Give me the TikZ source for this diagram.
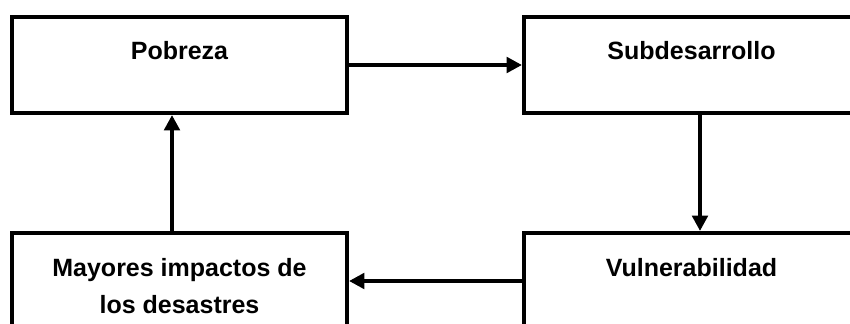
\documentclass[tikz,border=0pt]{standalone}
\usepackage{fontspec}
\setmainfont{Liberation Sans}
\usetikzlibrary{arrows.meta}
\begin{document}
\begin{tikzpicture}[x=0.75pt, y=-0.75pt,
  box/.style={draw=black, line width=3pt, fill=white, rectangle,
    minimum width=251.25pt, minimum height=72pt, inner sep=0pt},
  lbl/.style={font=\fontsize{18.75pt}{27.5pt}\selectfont\bfseries,
    align=center, inner sep=0pt, anchor=base},
  link/.style={line width=3pt, -{Triangle[length=11.5pt, width=11.5pt]}}]
  \useasboundingbox (0,0) rectangle (850,324);
  \clip (0,0) rectangle (850,324);
  % the four boxes of the cycle
  \node[box] (pob) at (179.5,65) {};
  \node[box] (sub) at (691.5,65) {};
  \node[box] (may) at (179.5,281) {};
  \node[box] (vul) at (691.5,281) {};
  % labels, set near the top of each box (base = last line's baseline)
  \node[lbl] (pobt) at (179.5,60) {Pobreza};
  \node[lbl] (subt) at (691.5,60) {Subdesarrollo};
  \node[lbl] (vult) at (691.5,276.5) {Vulnerabilidad};
  \node[lbl] (mayt) at (179.5,313) {Mayores impactos de\\los desastres};
  % vertical arrow positions
  \coordinate (dn) at (700,0);
  \coordinate (up) at (172,0);
  % arrows
  \draw[link] (pob.east) -- (sub.west);
  \draw[link] (sub.south -| dn) -- (vul.north -| dn);
  \draw[link] (vul.west) -- (may.east);
  \draw[link] (may.north -| up) -- (pob.south -| up);
\end{tikzpicture}
\end{document}
